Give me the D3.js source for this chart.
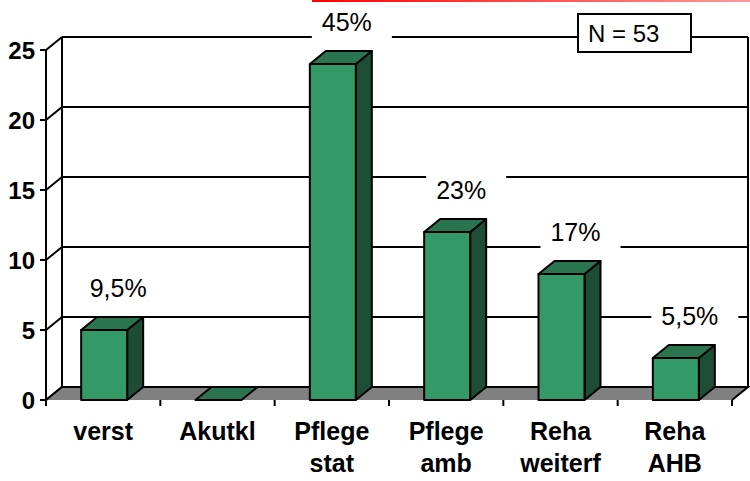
<!DOCTYPE html>
<html><head><meta charset="utf-8">
<script src="https://cdn.jsdelivr.net/npm/d3@7"></script>
<style>html,body{margin:0;padding:0;background:#fff;}svg{display:block;font-family:Arial,"Liberation Sans",sans-serif;}</style>
</head><body>
<script>
const categories = [["verst"],["Akutkl"],["Pflege","stat"],["Pflege","amb"],["Reha","weiterf"],["Reha","AHB"]];
const values = [5, 0, 24, 12, 9, 3];
const percentLabels = ["9,5%", null, "45%", "23%", "17%", "5,5%"];
const yTicks = [0, 5, 10, 15, 20, 25];
const nLabel = "N = 53";

const W = 750, H = 481;
const DX = 16, DY = -13;
const svg = d3.select("body").append("svg").attr("width", W).attr("height", H);

const x = d3.scaleBand().domain(d3.range(categories.length)).range([46, 732]).paddingInner(0).paddingOuter(0);
const y = d3.scaleLinear().domain([0, 25]).range([400, 50]);
const barW = 46;

// back wall gridlines
const g = svg.append("g");
yTicks.filter(t => t > 0).forEach(t => {
  g.append("line").attr("x1", 46 + DX).attr("x2", 732 + DX).attr("y1", y(t) + DY).attr("y2", y(t) + DY)
   .attr("stroke", "#000").attr("stroke-width", 2);
});
yTicks.forEach(t => {
  g.append("line").attr("x1", 46).attr("y1", y(t)).attr("x2", 46 + DX).attr("y2", y(t) + DY)
   .attr("stroke", "#000").attr("stroke-width", 2);
});
// back wall verticals
g.append("line").attr("x1", 46 + DX).attr("x2", 46 + DX).attr("y1", y(25) + DY).attr("y2", y(0) + DY).attr("stroke","#000").attr("stroke-width",2);
g.append("line").attr("x1", 732 + DX).attr("x2", 732 + DX).attr("y1", y(25) + DY).attr("y2", y(0) + DY).attr("stroke","#000").attr("stroke-width",2);

// floor
const floorPts = [[46, y(0)], [732, y(0)], [732 + DX, y(0) + DY], [46 + DX, y(0) + DY]];
g.append("polygon").attr("points", floorPts.map(p => p.join(",")).join(" ")).attr("fill", "#808080");
g.append("path").attr("d", `M46,${y(0)} L${46+DX},${y(0)+DY} L${732+DX},${y(0)+DY} L732,${y(0)}`)
  .attr("fill","none").attr("stroke","#000").attr("stroke-width",2);

// bars
const colFront = "#339966", colTop = "#2a7550", colSide = "#1e4d36";
const bars = svg.append("g");
values.forEach((v, i) => {
  const cx = x(i) + x.bandwidth() / 2 + 1;
  const x0 = cx - barW / 2, x1 = cx + barW / 2;
  const yt = y(v), yb = y(0);
  const bg = bars.append("g").attr("stroke", "#000").attr("stroke-width", 2).attr("stroke-linejoin","round");
  if (v > 0) {
    bg.append("polygon").attr("points", `${x1},${yb} ${x1+DX},${yb+DY} ${x1+DX},${yt+DY} ${x1},${yt}`).attr("fill", colSide);
  }
  bg.append("polygon").attr("points", `${x0},${yt} ${x1},${yt} ${x1+DX},${yt+DY} ${x0+DX},${yt+DY}`).attr("fill", colTop);
  if (v > 0) {
    bg.append("rect").attr("x", x0).attr("y", yt).attr("width", barW).attr("height", yb - yt).attr("fill", colFront);
  }
});

// percent labels with white boxes
const lab = svg.append("g");
values.forEach((v, i) => {
  if (!percentLabels[i]) return;
  const cx = x(i) + x.bandwidth() / 2 + 15;
  const by = Math.max(y(v) - 33, 26);
  const rect = lab.append("rect").attr("fill", "#fff");
  const t = lab.append("text").attr("x", cx).attr("y", by).attr("text-anchor", "middle")
    .attr("font-size", 25).attr("fill", "#000").text(percentLabels[i]);
  const bb = t.node().getBBox();
  rect.attr("x", bb.x - 10).attr("y", by - 33).attr("width", bb.width + 30).attr("height", 44);
});

// red line at top edge
const defs = svg.append("defs");
const grad = defs.append("linearGradient").attr("id","redfade");
grad.append("stop").attr("offset","0%").attr("stop-color","#ff0000");
grad.append("stop").attr("offset","100%").attr("stop-color","#ff9a9a");
svg.append("rect").attr("x",312).attr("y",0).attr("width",438).attr("height",2).attr("fill","url(#redfade)");

// N box
const nb = svg.append("g");
nb.append("rect").attr("x", 578).attr("y", 14).attr("width", 113).attr("height", 38)
  .attr("fill", "#fff").attr("stroke", "#000").attr("stroke-width", 2);
nb.append("text").attr("x", 588).attr("y", 42).attr("font-size", 24).text(nLabel);

// front left axis
const ax = svg.append("g");
ax.append("line").attr("x1", 46).attr("x2", 46).attr("y1", y(25)).attr("y2", y(0) + 3).attr("stroke","#000").attr("stroke-width",2);
yTicks.forEach(t => {
  ax.append("line").attr("x1", 40).attr("x2", 46).attr("y1", y(t)).attr("y2", y(t)).attr("stroke","#000").attr("stroke-width",2);
  ax.append("text").attr("x", 35).attr("y", y(t)).attr("dy", "0.36em").attr("text-anchor","end")
    .attr("font-size", 24).attr("font-weight","bold").text(t);
});
// x ticks
d3.range(categories.length + 1).forEach(i => {
  const xx = i < categories.length ? x(i) : x(categories.length - 1) + x.bandwidth();
  ax.append("line").attr("x1", xx).attr("x2", xx).attr("y1", y(0)).attr("y2", y(0) + 6).attr("stroke","#000").attr("stroke-width",2);
});
// x labels
categories.forEach((lines, i) => {
  const cx = x(i) + x.bandwidth() / 2;
  const t = ax.append("text").attr("text-anchor","middle").attr("font-size", 25).attr("font-weight","bold");
  lines.forEach((l, k) => {
    t.append("tspan").attr("x", cx).attr("y", 440 + k * 32).text(l);
  });
});
</script>
</body></html>
